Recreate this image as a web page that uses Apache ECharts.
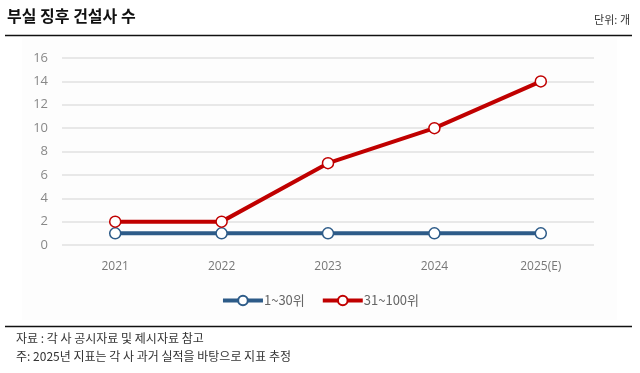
<!DOCTYPE html>
<html><head><meta charset="utf-8">
<script src="https://cdn.jsdelivr.net/npm/echarts@6/dist/echarts.min.js"></script>
<style>html,body{margin:0;padding:0;background:#fff}#c{width:640px;height:373px}</style>
</head><body><div id="c"></div>
<script>
const categories = ['2021','2022','2023','2024','2025(E)'];
const seriesNames = ['1~30위','31~100위'];
const top30 = [1,1,1,1,1];
const top100 = [2,2,7,10,14];
const yTicks = [0,2,4,6,8,10,12,14,16];

const chart = echarts.init(document.getElementById('c'), null, {renderer:'canvas'});
const kr = '"Noto Sans CJK KR", "Noto Sans", sans-serif';
const num = '"Open Sans", "Noto Sans", sans-serif';
const mk = (name, data, color) => ({
  name, type:'line', data, symbol:'circle', symbolSize:11,
  lineStyle:{color, width:4}, itemStyle:{color:'#fff', borderColor:color, borderWidth:1.5},
  emphasis:{disabled:true}
});
chart.setOption({
  animation:false,
  grid:{left:62, right:46, top:58, bottom:128, containLabel:false},
  xAxis:{type:'category', data:categories, boundaryGap:true,
    axisLine:{show:false}, axisTick:{show:false},
    axisLabel:{color:'#777', fontSize:12, fontFamily:num, margin:16}},
  yAxis:{type:'value', min:yTicks[0], max:yTicks[yTicks.length-1], interval:2,
    axisLine:{show:false}, axisTick:{show:false},
    axisLabel:{color:'#888', fontSize:13, fontFamily:num, margin:14},
    splitLine:{lineStyle:{color:'#e0e0e0', width:1.5}}},
  legend:{data:seriesNames, top:289, left:'center', itemWidth:40, itemHeight:12, itemGap:16,
    lineStyle:{width:4},
    textStyle:{color:'#666', fontSize:13, fontFamily:kr, padding:[0,0,0,-4]}},
  series:[mk(seriesNames[0], top30, '#2d5b88'), mk(seriesNames[1], top100, '#c00000')],
  graphic:[
    {type:'rect', z:-10, shape:{x:22,y:38,width:595,height:282}, style:{fill:'#fdfdfd'}},
    {type:'text', left:7, top:8, style:{text:'부실 징후 건설사 수', font:'bold 16px "Noto Sans CJK KR"', fill:'#111'}},
    {type:'text', right:10, top:14, style:{text:'단위: 개', font:'11px "Noto Sans CJK KR"', fill:'#333'}},
    {type:'line', shape:{x1:5,y1:35.5,x2:632,y2:35.5}, style:{stroke:'#111', lineWidth:1.5}},
    {type:'line', shape:{x1:5,y1:326.5,x2:632,y2:326.5}, style:{stroke:'#111', lineWidth:1.5}},
    {type:'text', left:16, top:332, style:{text:'자료 : 각 사 공시자료 및 제시자료 참고', font:'12px "Noto Sans CJK KR"', fill:'#333'}},
    {type:'text', left:16, top:350, style:{text:'주: 2025년 지표는 각 사 과거 실적을 바탕으로 지표 추정', font:'12px "Noto Sans CJK KR"', fill:'#333'}}
  ]
});
</script></body></html>
